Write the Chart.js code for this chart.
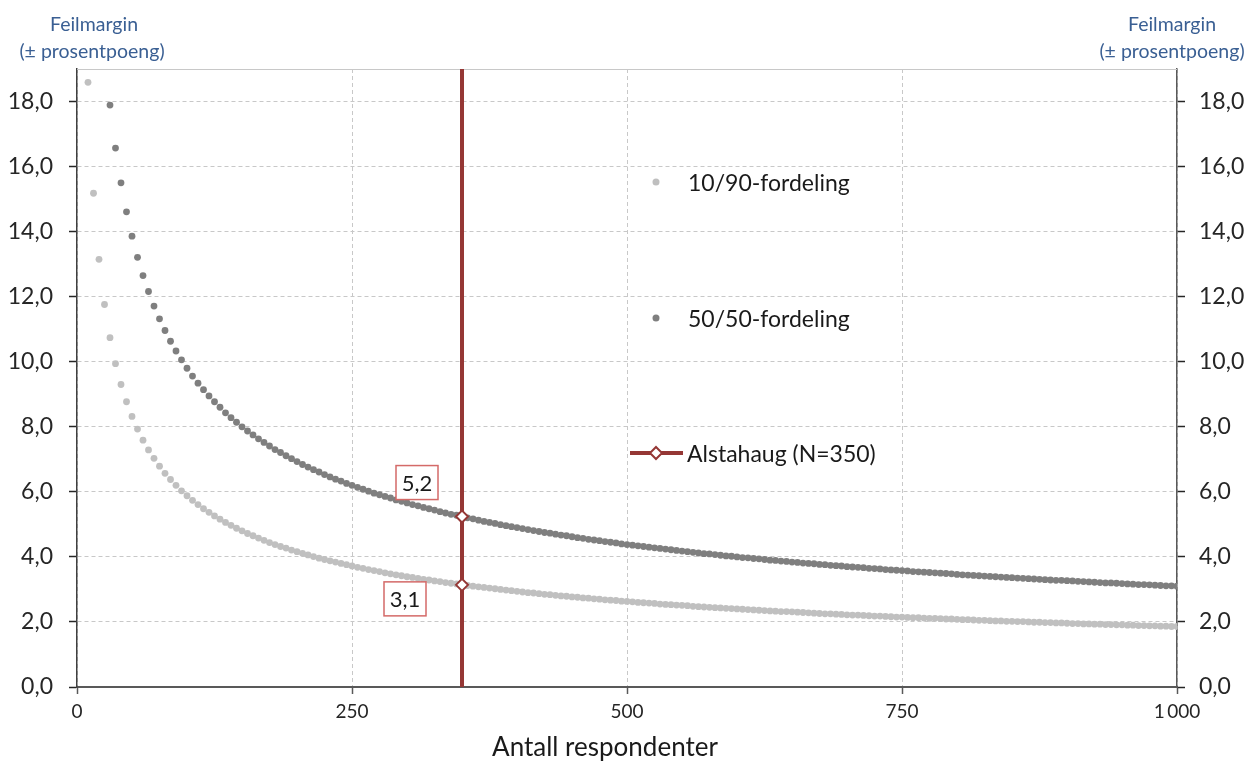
<!DOCTYPE html>
<html>
<head>
<meta charset="utf-8">
<script src="https://cdn.jsdelivr.net/npm/chart.js@4.4.0/dist/chart.umd.min.js"></script>
<style>
  html, body { margin: 0; padding: 0; background: #fff; }
  #wrap { width: 1251px; height: 762px; position: relative; }
</style>
</head>
<body>
<div id="wrap"><canvas id="errChart"></canvas></div>
<script>
// Antall respondenter (x), step 5 from 10 to 1000
var respondents = [
  10, 15, 20, 25, 30, 35, 40, 45, 50, 55, 60, 65, 70, 75, 80, 85, 90, 95,
  100, 105, 110, 115, 120, 125, 130, 135, 140, 145, 150, 155, 160, 165, 170, 175, 180, 185, 190, 195,
  200, 205, 210, 215, 220, 225, 230, 235, 240, 245, 250, 255, 260, 265, 270, 275, 280, 285, 290, 295,
  300, 305, 310, 315, 320, 325, 330, 335, 340, 345, 350, 355, 360, 365, 370, 375, 380, 385, 390, 395,
  400, 405, 410, 415, 420, 425, 430, 435, 440, 445, 450, 455, 460, 465, 470, 475, 480, 485, 490, 495,
  500, 505, 510, 515, 520, 525, 530, 535, 540, 545, 550, 555, 560, 565, 570, 575, 580, 585, 590, 595,
  600, 605, 610, 615, 620, 625, 630, 635, 640, 645, 650, 655, 660, 665, 670, 675, 680, 685, 690, 695,
  700, 705, 710, 715, 720, 725, 730, 735, 740, 745, 750, 755, 760, 765, 770, 775, 780, 785, 790, 795,
  800, 805, 810, 815, 820, 825, 830, 835, 840, 845, 850, 855, 860, 865, 870, 875, 880, 885, 890, 895,
  900, 905, 910, 915, 920, 925, 930, 935, 940, 945, 950, 955, 960, 965, 970, 975, 980, 985, 990, 995,
  1000
];

// 10/90-fordeling, feilmargin i prosentpoeng
var margin1090 = [
  18.59, 15.18, 13.15, 11.76, 10.74, 9.94, 9.30, 8.77, 8.32, 7.93, 7.59, 7.29, 7.03, 6.79, 6.57, 6.38, 6.20, 6.03,
  5.88, 5.74, 5.61, 5.48, 5.37, 5.26, 5.16, 5.06, 4.97, 4.88, 4.80, 4.72, 4.65, 4.58, 4.51, 4.44, 4.38, 4.32, 4.27, 4.21,
  4.16, 4.11, 4.06, 4.01, 3.96, 3.92, 3.88, 3.84, 3.80, 3.76, 3.72, 3.68, 3.65, 3.61, 3.58, 3.55, 3.51, 3.48, 3.45, 3.42,
  3.39, 3.37, 3.34, 3.31, 3.29, 3.26, 3.24, 3.21, 3.19, 3.17, 3.14, 3.12, 3.10, 3.08, 3.06, 3.04, 3.02, 3.00, 2.98, 2.96,
  2.94, 2.92, 2.90, 2.89, 2.87, 2.85, 2.84, 2.82, 2.80, 2.79, 2.77, 2.76, 2.74, 2.73, 2.71, 2.70, 2.68, 2.67, 2.66, 2.64,
  2.63, 2.62, 2.60, 2.59, 2.58, 2.57, 2.55, 2.54, 2.53, 2.52, 2.51, 2.50, 2.48, 2.47, 2.46, 2.45, 2.44, 2.43, 2.42, 2.41,
  2.40, 2.39, 2.38, 2.37, 2.36, 2.35, 2.34, 2.33, 2.32, 2.32, 2.31, 2.30, 2.29, 2.28, 2.27, 2.26, 2.25, 2.25, 2.24, 2.23,
  2.22, 2.21, 2.21, 2.20, 2.19, 2.18, 2.18, 2.17, 2.16, 2.15, 2.15, 2.14, 2.13, 2.13, 2.12, 2.11, 2.11, 2.10, 2.09, 2.09,
  2.08, 2.07, 2.07, 2.06, 2.05, 2.05, 2.04, 2.03, 2.03, 2.02, 2.02, 2.01, 2.01, 2.00, 1.99, 1.99, 1.98, 1.98, 1.97, 1.97,
  1.96, 1.95, 1.95, 1.94, 1.94, 1.93, 1.93, 1.92, 1.92, 1.91, 1.91, 1.90, 1.90, 1.89, 1.89, 1.88, 1.88, 1.87, 1.87, 1.86,
  1.86
];

// 50/50-fordeling (first points fall above the axis and are not shown)
var margin5050 = [
  null, null, null, null, 17.89, 16.57, 15.50, 14.61, 13.86, 13.21, 12.65, 12.16, 11.71, 11.32, 10.96, 10.63, 10.33, 10.06,
  9.80, 9.56, 9.34, 9.14, 8.95, 8.77, 8.60, 8.43, 8.28, 8.14, 8.00, 7.87, 7.75, 7.63, 7.52, 7.41, 7.30, 7.21, 7.11, 7.02,
  6.93, 6.84, 6.76, 6.68, 6.61, 6.53, 6.46, 6.39, 6.33, 6.26, 6.20, 6.14, 6.08, 6.02, 5.96, 5.91, 5.86, 5.81, 5.75, 5.71,
  5.66, 5.61, 5.57, 5.52, 5.48, 5.44, 5.39, 5.35, 5.31, 5.28, 5.24, 5.20, 5.17, 5.13, 5.09, 5.06, 5.03, 4.99, 4.96, 4.93,
  4.90, 4.87, 4.84, 4.81, 4.78, 4.75, 4.73, 4.70, 4.67, 4.65, 4.62, 4.59, 4.57, 4.54, 4.52, 4.50, 4.47, 4.45, 4.43, 4.40,
  4.38, 4.36, 4.34, 4.32, 4.30, 4.28, 4.26, 4.24, 4.22, 4.20, 4.18, 4.16, 4.14, 4.12, 4.10, 4.09, 4.07, 4.05, 4.03, 4.02,
  4.00, 3.98, 3.97, 3.95, 3.94, 3.92, 3.90, 3.89, 3.87, 3.86, 3.84, 3.83, 3.81, 3.80, 3.79, 3.77, 3.76, 3.74, 3.73, 3.72,
  3.70, 3.69, 3.68, 3.67, 3.65, 3.64, 3.63, 3.61, 3.60, 3.59, 3.58, 3.57, 3.55, 3.54, 3.53, 3.52, 3.51, 3.50, 3.49, 3.48,
  3.46, 3.45, 3.44, 3.43, 3.42, 3.41, 3.40, 3.39, 3.38, 3.37, 3.36, 3.35, 3.34, 3.33, 3.32, 3.31, 3.30, 3.29, 3.28, 3.28,
  3.27, 3.26, 3.25, 3.24, 3.23, 3.22, 3.21, 3.20, 3.20, 3.19, 3.18, 3.17, 3.16, 3.15, 3.15, 3.14, 3.13, 3.12, 3.11, 3.11,
  3.10
];

// Alstahaug (N=350) and the two margins read at that N
var alstahaugN = 350;
var alstahaugMargins = [5.24, 3.14];

var seriesNames = ['10/90-fordeling', '50/50-fordeling', 'Alstahaug (N=350)'];
var yMin = 0, yMax = 19, yStep = 2;
var xMin = 0, xMax = 1000, xStep = 250;

var FONT = 'Lato, "Open Sans", sans-serif';
var RED = '#953735';

function comma(v) {
  return v.toFixed(1).replace('.', ',');
}

function toPoints(ys) {
  var pts = [];
  for (var i = 0; i < respondents.length; i++) {
    if (ys[i] !== null) pts.push({ x: respondents[i], y: ys[i] });
  }
  return pts;
}

// Extra drawing: titles, legend, value boxes, top frame line
var extras = {
  id: 'extras',
  beforeDatasetsDraw: function (chart) {
    var ctx = chart.ctx, a = chart.chartArea;
    ctx.save();
    ctx.strokeStyle = '#c8c8c8';
    ctx.lineWidth = 1;
    ctx.beginPath();
    ctx.moveTo(a.left, a.top + 0.5);
    ctx.lineTo(a.right, a.top + 0.5);
    ctx.stroke();
    ctx.restore();
  },
  afterDraw: function (chart) {
    var ctx = chart.ctx, a = chart.chartArea;
    var xs = chart.scales.x, ys = chart.scales.y;
    ctx.save();

    // axis titles at the top
    ctx.fillStyle = '#3a5f93';
    ctx.font = '19.5px ' + FONT;
    ctx.textAlign = 'center';
    ctx.textBaseline = 'middle';
    ctx.fillText('Feilmargin', 94, 25);
    ctx.fillText('(\u00b1 prosentpoeng)', 92, 52);
    ctx.fillText('Feilmargin', 1172, 25);
    ctx.fillText('(\u00b1 prosentpoeng)', 1172, 52);

    // x title
    ctx.fillStyle = '#1a1a1a';
    ctx.font = '26px ' + FONT;
    ctx.fillText('Antall respondenter', (a.left + a.right) / 2 - 22, 748);

    // legend
    ctx.font = '23px ' + FONT;
    ctx.textAlign = 'left';
    var lx = 656;
    ctx.fillStyle = '#bfbfbf';
    ctx.beginPath(); ctx.arc(lx, 182, 3.5, 0, Math.PI * 2); ctx.fill();
    ctx.fillStyle = '#7f7f7f';
    ctx.beginPath(); ctx.arc(lx, 318, 3.5, 0, Math.PI * 2); ctx.fill();
    ctx.fillStyle = '#1a1a1a';
    ctx.fillText(seriesNames[0], 688, 184);
    ctx.fillText(seriesNames[1], 688, 320);
    ctx.strokeStyle = RED;
    ctx.lineWidth = 4;
    ctx.beginPath(); ctx.moveTo(630, 453); ctx.lineTo(683, 453); ctx.stroke();
    ctx.fillStyle = '#fff';
    ctx.lineWidth = 2;
    ctx.beginPath();
    ctx.moveTo(lx, 447); ctx.lineTo(lx + 6, 453); ctx.lineTo(lx, 459); ctx.lineTo(lx - 6, 453); ctx.closePath();
    ctx.fill(); ctx.stroke();
    ctx.fillStyle = '#1a1a1a';
    ctx.fillText(seriesNames[2], 687, 455);

    // value boxes
    var px = xs.getPixelForValue(alstahaugN);
    var offs = [[-45, -34], [-57, 14]];
    ctx.textAlign = 'center';
    ctx.font = '22px ' + FONT;
    for (var i = 0; i < alstahaugMargins.length; i++) {
      var py = ys.getPixelForValue(alstahaugMargins[i]);
      var cx = px + offs[i][0], cy = py + offs[i][1];
      ctx.fillStyle = '#fff';
      ctx.fillRect(cx - 21, cy - 17, 42, 34);
      ctx.strokeStyle = '#d46a68';
      ctx.lineWidth = 1.5;
      ctx.strokeRect(cx - 21, cy - 17, 42, 34);
      ctx.fillStyle = '#1a1a1a';
      ctx.fillText(comma(alstahaugMargins[i]), cx, cy + 1);
    }
    ctx.restore();
  }
};

function yTicks(pad) {
  return {
    stepSize: yStep,
    font: { family: FONT, size: 23 },
    color: '#262626',
    padding: pad,
    callback: function (v) { return comma(v); }
  };
}

var errChart = new Chart(document.getElementById('errChart').getContext('2d'), {
  type: 'scatter',
  data: {
    datasets: [
      {
        label: 'Alstahaug punkter',
        data: alstahaugMargins.map(function (m) { return { x: alstahaugN, y: m }; }),
        pointStyle: 'rectRot',
        pointRadius: 6,
        backgroundColor: '#ffffff',
        borderColor: RED,
        borderWidth: 2,
        order: 0
      },
      {
        type: 'line',
        label: seriesNames[2],
        data: [{ x: alstahaugN, y: yMin }, { x: alstahaugN, y: yMax }],
        borderColor: RED,
        borderWidth: 4,
        pointRadius: 0,
        order: 1
      },
      {
        label: seriesNames[1],
        data: toPoints(margin5050),
        pointRadius: 3.4,
        backgroundColor: '#7f7f7f',
        borderWidth: 0,
        order: 2
      },
      {
        label: seriesNames[0],
        data: toPoints(margin1090),
        pointRadius: 3.4,
        backgroundColor: '#c0c0c0',
        borderWidth: 0,
        order: 3
      }
    ]
  },
  options: {
    responsive: true,
    maintainAspectRatio: false,
    animation: false,
    events: [],
    layout: { padding: { top: 69, left: 0, right: 0, bottom: 0 } },
    plugins: {
      legend: { display: false },
      tooltip: { enabled: false }
    },
    scales: {
      x: {
        type: 'linear',
        min: xMin,
        max: xMax,
        afterFit: function (s) { s.height = 75; },
        ticks: {
          stepSize: xStep,
          font: { family: FONT, size: 19 },
          color: '#262626',
          padding: 6,
          maxRotation: 0,
          callback: function (v) { return v >= 1000 ? '1\u2009000' : String(v); }
        },
        grid: { color: '#c8c8c8', lineWidth: 1, tickLength: 7, tickColor: '#595959', tickWidth: 1.5 },
        border: { color: '#595959', width: 2, dash: [4, 3] }
      },
      y: {
        position: 'left',
        min: yMin,
        max: yMax,
        afterFit: function (s) { s.width = 77; },
        afterBuildTicks: function (s) { s.ticks = s.ticks.filter(function (t) { return t.value <= 18; }); },
        ticks: yTicks(16),
        grid: { color: '#c8c8c8', lineWidth: 1, tickLength: 8, tickColor: '#262626', tickWidth: 1.5 },
        border: { color: '#404040', width: 1.5, dash: [4, 3] }
      },
      y2: {
        position: 'right',
        min: yMin,
        max: yMax,
        afterFit: function (s) { s.width = 74; },
        afterBuildTicks: function (s) { s.ticks = s.ticks.filter(function (t) { return t.value <= 18; }); },
        ticks: yTicks(14),
        grid: { drawOnChartArea: false, tickLength: 8, tickColor: '#262626', tickWidth: 1.5 },
        border: { color: '#595959', width: 1.5 }
      }
    }
  },
  plugins: [extras]
});
</script>
</body>
</html>
